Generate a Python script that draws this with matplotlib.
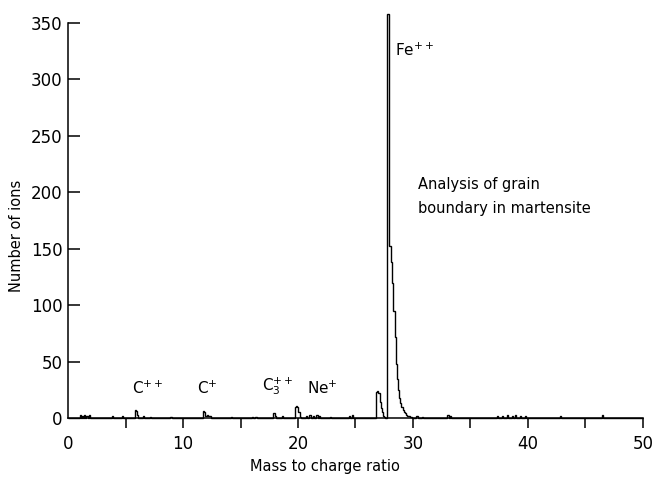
import numpy as np
import matplotlib
matplotlib.use("Agg")
import matplotlib.pyplot as plt


# counts per 0.1-wide mass/charge bin (left edge of bin -> number of ions)
fe_mz = [27.7, 27.8, 27.9, 28.0, 28.1, 28.2, 28.3, 28.4, 28.5, 28.6, 28.7,
         28.8, 28.9, 29.0, 29.1, 29.2, 29.3, 29.4, 29.5, 29.6, 29.7, 29.8]
fe_counts = [358, 358, 152, 152, 138, 120, 95, 72, 48, 35, 25,
             18, 13, 10, 7, 5, 4, 3, 2, 2, 1, 1]

side_mz = [26.8, 26.9, 27.0, 27.1, 27.2, 27.3, 27.4, 27.5]
side_counts = [23, 24, 22, 14, 9, 5, 2, 1]

small_mz = [5.8, 5.9, 6.0, 11.7, 11.8, 11.9, 12.0, 12.1, 12.2, 12.3,
            17.8, 17.9, 18.0, 19.7, 19.8, 19.9, 20.0, 20.1, 20.2]
small_counts = [7, 6, 3, 6, 5, 2, 2, 3, 2, 2,
                4, 4, 2, 10, 11, 10, 5, 5, 1]

noise_mz = [1.0, 1.2, 1.4, 1.6, 1.8, 3.8, 4.7, 6.5, 7.1, 8.9, 14.2, 16.0,
            16.3, 18.6, 20.7, 21.0, 21.3, 21.6, 21.8, 22.8, 24.4, 24.7,
            30.3, 30.8, 33.0, 33.2, 37.3, 37.7, 38.2, 38.6, 38.9, 39.3,
            39.7, 42.8, 46.4]
noise_counts = [3, 2, 3, 2, 3, 2, 2, 2, 1, 1, 1, 1,
                1, 2, 2, 3, 2, 3, 2, 1, 2, 3,
                2, 1, 3, 2, 2, 2, 3, 2, 3, 2,
                2, 2, 3]

labels = ["C$^{++}$", "C$^{+}$", "C$_3^{++}$", "Ne$^{+}$", "Fe$^{++}$"]
label_x = [5.6, 11.2, 16.9, 20.8, 28.4]
label_y = [19, 19, 19, 19, 318]

edges = np.round(np.arange(0, 50.05, 0.1), 1)
counts = np.zeros(len(edges) - 1)
for mz, c in zip(fe_mz + side_mz + small_mz + noise_mz,
                 fe_counts + side_counts + small_counts + noise_counts):
    counts[int(round(mz * 10))] = c

fig = plt.figure(figsize=(6.59, 4.78), dpi=100)
ax = fig.add_axes([0.1032, 0.1255, 0.8725, 0.8264])

ax.stairs(counts, edges, color="black", lw=1.0, clip_on=False)

ax.set_xlim(0, 50)
ax.set_ylim(0, 350)
for s in ["top", "right"]:
    ax.spines[s].set_visible(False)
for s in ["left", "bottom"]:
    ax.spines[s].set_linewidth(1.1)

ax.set_xticks(range(0, 51, 10))
ax.set_xticks(range(5, 50, 10), minor=True)
ax.set_yticks(range(0, 351, 50))
ax.tick_params(axis="x", which="both", direction="out", length=7, width=1.1,
               pad=5, labelsize=12)
ax.tick_params(axis="y", direction="in", length=8.5, width=1.1, pad=4,
               labelsize=12)
ax.xaxis.get_major_ticks()[0].tick1line.set_visible(False)
ax.yaxis.get_major_ticks()[0].tick1line.set_visible(False)

ax.set_xlabel("Mass to charge ratio", fontsize=10.5)
ax.xaxis.set_label_coords(0.446, -0.105)
ax.set_ylabel("Number of ions", fontsize=10.5)
ax.yaxis.set_label_coords(-0.077, 0.46)

for t, x, y in zip(labels, label_x, label_y):
    ax.text(x, y, t, fontsize=11, ha="left", va="bottom")

ax.text(30.4, 196, "Analysis of grain\nboundary in martensite", fontsize=10.5,
        ha="left", va="center", linespacing=1.75)

fig.savefig("out.png", dpi=100)
